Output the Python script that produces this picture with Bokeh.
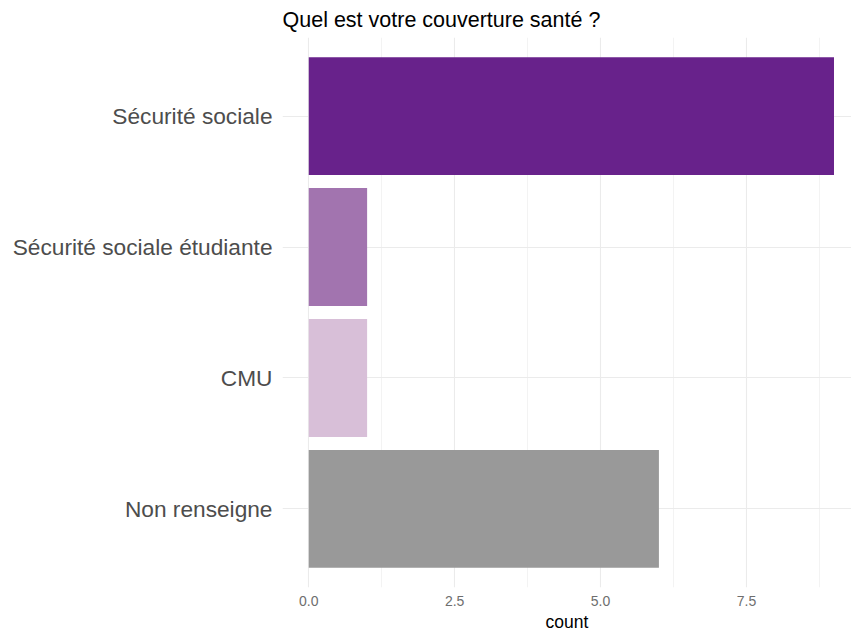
from bokeh.plotting import figure
from bokeh.models import FactorRange, Range1d, FixedTicker, ColumnDataSource, PrintfTickFormatter
from bokeh.embed import file_html
from bokeh.resources import INLINE

categories = ["Sécurité sociale", "Sécurité sociale étudiante", "CMU", "Non renseigne"]
counts = [9, 1, 1, 6]
colors = ["#68228B", "#A274AF", "#D8BFD8", "#999999"]
x_ticks = [0, 2.5, 5.0, 7.5]
x_minor = [1.25, 3.75, 6.25, 8.75]
title_text = "Quel est votre couverture santé ?"
x_label = "count"

FONT = "Liberation Sans"

src = ColumnDataSource(dict(cat=categories, n=counts, color=colors))

yr = FactorRange(factors=list(reversed(categories)), range_padding=0.1, range_padding_units="absolute")

p = figure(width=851, height=634, y_range=yr, x_range=Range1d(-0.45, 9.3),
           output_backend="svg", toolbar_location=None, title=title_text,
           min_border_left=282, min_border_right=0, min_border_top=0, min_border_bottom=0)

p.hbar(y="cat", right="n", left=0, height=0.9, color="color", source=src, line_color=None)

p.title.text_font = FONT
p.title.text_font_size = "21.5px"
p.title.text_font_style = "normal"
p.title.text_color = "#000000"
p.title.offset = 0
p.title.standoff = 11

p.outline_line_color = None
p.background_fill_color = "white"
p.border_fill_color = "white"

p.xaxis.ticker = FixedTicker(ticks=x_ticks, minor_ticks=x_minor)
p.xaxis.formatter = PrintfTickFormatter(format="%.1f")
p.xaxis.axis_label = x_label
p.xaxis.axis_label_text_font = FONT
p.xaxis.axis_label_text_font_size = "17.5px"
p.xaxis.axis_label_text_font_style = "normal"
p.xaxis.axis_label_text_color = "#000000"
p.xaxis.axis_label_standoff = 3
p.xaxis.major_label_text_font = FONT
p.xaxis.major_label_text_font_size = "14px"
p.xaxis.major_label_text_color = "#6E6E6E"
p.xaxis.major_label_standoff = 4

p.yaxis.major_label_text_font = FONT
p.yaxis.major_label_text_font_size = "22.7px"
p.yaxis.major_label_text_color = "#4D4D4D"
p.yaxis.major_label_standoff = 10

for ax in (p.xaxis, p.yaxis):
    ax.axis_line_color = None
    ax.major_tick_line_color = None
    ax.minor_tick_line_color = None
    ax.major_tick_out = 0
    ax.major_tick_in = 0

p.xgrid.grid_line_color = "#EBEBEB"
p.xgrid.grid_line_width = 1.1
p.xgrid.minor_grid_line_color = "#EBEBEB"
p.xgrid.minor_grid_line_width = 0.6
p.ygrid.grid_line_color = "#EBEBEB"
p.ygrid.grid_line_width = 1.1
p.xgrid.level = "underlay"
p.ygrid.level = "underlay"

open("out.html", "w").write(file_html(p, INLINE))
